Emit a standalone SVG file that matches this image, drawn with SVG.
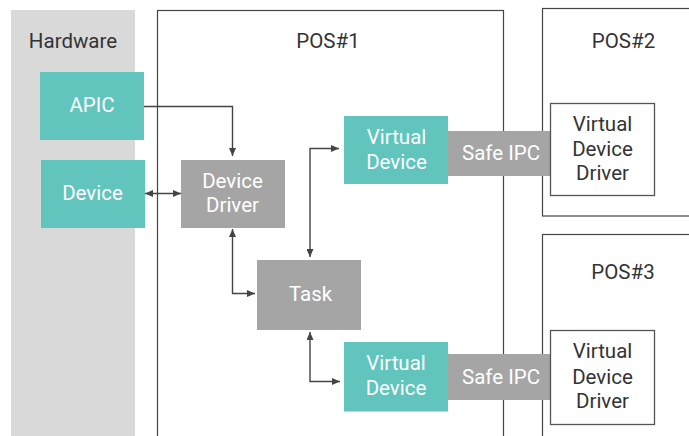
<svg xmlns="http://www.w3.org/2000/svg" width="689" height="436" viewBox="0 0 689 436">
<defs>
<style>
.t{font-family:Roboto,"Liberation Sans",sans-serif;font-size:20.5px;text-anchor:middle}
.dark{fill:#333}
.white{fill:#fff}
.teal{fill:#61c4bd}
.grey{fill:#a5a5a5}
.frame{fill:#fff;stroke:#444;stroke-width:1.2}
.vdd{fill:#fff;stroke:#555;stroke-width:1.3}
.conn{fill:none;stroke:#444;stroke-width:1.4}
</style>
<marker id="ah" viewBox="0 0 8 7" refX="8" refY="3.5" markerWidth="8" markerHeight="7" markerUnits="userSpaceOnUse" orient="auto-start-reverse">
<path d="M0,0 L8,3.5 L0,7 z" fill="#444"/>
</marker>
</defs>
<rect width="689" height="436" fill="#fff"/>

<g id="hardware">
<rect x="11" y="10" width="124" height="430" fill="#d9d9d9"/>
<text class="t dark" x="73" y="48">Hardware</text>
</g>

<g id="pos1">
<rect class="frame" x="157.5" y="10.5" width="346" height="440"/>
<text class="t dark" x="328" y="48">POS#1</text>
</g>

<g id="pos2">
<rect class="frame" x="542.5" y="8.5" width="160" height="207.5"/>
<text class="t dark" x="623.5" y="48">POS#2</text>
</g>

<g id="pos3">
<rect class="frame" x="542.5" y="234.5" width="160" height="220"/>
<text class="t dark" x="623" y="279">POS#3</text>
</g>

<g id="connectors">
<path class="conn" d="M144,106.5 H232.5 V156" marker-end="url(#ah)"/>
<path class="conn" d="M145,193.5 H181" marker-start="url(#ah)" marker-end="url(#ah)"/>
<path class="conn" d="M232.5,229 V293.5 H255" marker-start="url(#ah)" marker-end="url(#ah)"/>
<path class="conn" d="M310,257 V148.5 H339" marker-start="url(#ah)" marker-end="url(#ah)"/>
<path class="conn" d="M310,332 V381.5 H340" marker-start="url(#ah)" marker-end="url(#ah)"/>
</g>

<g id="apic">
<rect class="teal" x="40" y="72" width="104" height="68"/>
<text class="t white" x="92" y="112">APIC</text>
</g>

<g id="device">
<rect class="teal" x="41" y="160" width="104" height="68"/>
<text class="t white" x="92.5" y="200">Device</text>
</g>

<g id="device-driver">
<rect class="grey" x="181" y="160" width="104" height="68"/>
<text class="t white" x="232.5" y="188">Device</text>
<text class="t white" x="232.5" y="212">Driver</text>
</g>

<g id="task">
<rect class="grey" x="257" y="260" width="104" height="70"/>
<text class="t white" x="310.5" y="301">Task</text>
</g>

<g id="safe-ipc-1">
<rect class="grey" x="448" y="131" width="104" height="45"/>
<text class="t white" x="501" y="159.5">Safe IPC</text>
</g>

<g id="virtual-device-1">
<rect class="teal" x="344" y="116" width="104" height="68"/>
<text class="t white" x="396.5" y="144">Virtual</text>
<text class="t white" x="396.5" y="169">Device</text>
</g>

<g id="vdd-2">
<rect class="vdd" x="550.5" y="103.5" width="104" height="92"/>
<text class="t dark" x="602.5" y="131">Virtual</text>
<text class="t dark" x="602.5" y="155.5">Device</text>
<text class="t dark" x="602.5" y="180">Driver</text>
</g>

<g id="safe-ipc-2">
<rect class="grey" x="448" y="354" width="104" height="46"/>
<text class="t white" x="501" y="384">Safe IPC</text>
</g>

<g id="virtual-device-2">
<rect class="teal" x="344" y="342" width="104" height="69.5"/>
<text class="t white" x="396" y="370">Virtual</text>
<text class="t white" x="396" y="395">Device</text>
</g>

<g id="vdd-3">
<rect class="vdd" x="550.5" y="330.5" width="104" height="94"/>
<text class="t dark" x="602.5" y="357.5">Virtual</text>
<text class="t dark" x="602.5" y="383.5">Device</text>
<text class="t dark" x="602.5" y="408">Driver</text>
</g>
</svg>
